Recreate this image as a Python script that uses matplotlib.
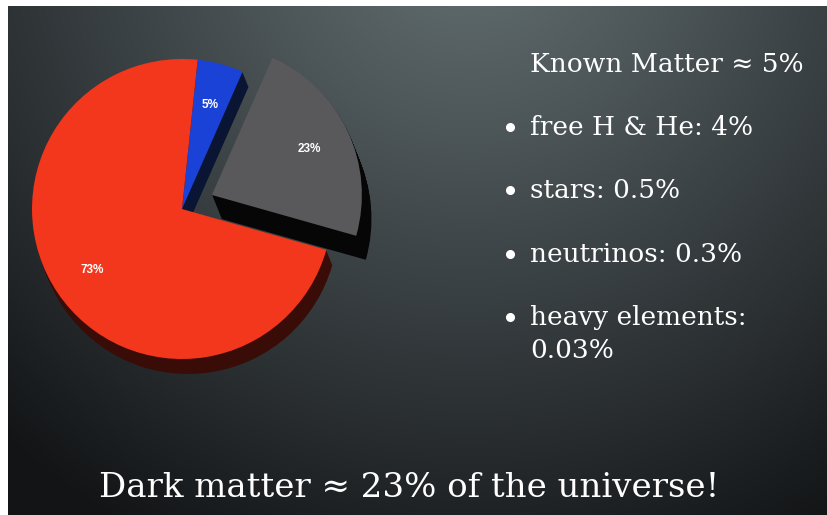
import numpy as np
import matplotlib
matplotlib.use("Agg")
from matplotlib import pyplot as plt

# data
slice_names = ["Known Matter", "Dark Matter", "Dark Energy"]
slice_values = [5, 23, 73]
slice_colors = ["#1a42d6", "#59595b", "#f2371d"]
side_colors = ["#0a1433", "#060606", "#3a0c07"]
explode = [0, 0.22, 0]

heading = "Known Matter \u2248 5%"
bullets = ["free H & He: 4%", "stars: 0.5%", "neutrinos: 0.3%", "heavy elements:\n0.03%"]
bullet_y = [127, 190, 254, 317]
title = "Dark matter \u2248 23% of the universe!"

W, H = 827, 515
fig = plt.figure(figsize=(W / 100, H / 100), dpi=100)
fig.patch.set_facecolor("white")

# background slide with radial gradient
ax = fig.add_axes([8 / W, 0, 1 - 8 / W, 1 - 6 / H])
ax.set_xlim(8, W)
ax.set_ylim(H, 6)
ax.axis("off")
yy, xx = np.mgrid[6:H, 8:W]
d = np.sqrt((xx - 470) ** 2 + (yy + 80) ** 2)
f = np.clip(1 - d / 700, 0, 1)
dark = np.array([18, 20, 22]) / 255
light = np.array([102, 114, 117]) / 255
img = dark + f[..., None] * (light - dark)
ax.imshow(img, extent=(8, W, H, 6), aspect="auto", zorder=0)

serif = "DejaVu Serif"
fs = 19
ax.text(530, 72, heading, color="white", fontsize=fs, family=serif, va="baseline")
for txt, y in zip(bullets, bullet_y):
    ax.plot(510, y, "o", color="white", markersize=5.5)
    for i, ln in enumerate(txt.split("\n")):
        ax.text(530, y + 8 + i * 33, ln, color="white", fontsize=fs, family=serif, va="baseline")
ax.text(409, 497, title, color="white", fontsize=24.5, family=serif, ha="center", va="baseline")

# pie chart with fake depth
cx, cy, r = 182, 209, 150
pax = fig.add_axes([(cx - 1.2 * r) / W, 1 - (cy + 1.2 * r) / H, 2.4 * r / W, 2.4 * r / H])
px = 1 / r
total = sum(slice_values)
for k in range(24, 0, -1):
    cols = list(side_colors) if k <= 15 else ["none", side_colors[1], "none"]
    pax.pie(slice_values, colors=cols, explode=explode, startangle=84, counterclock=False,
            center=(k * 0.4 * px, -k * 1.0 * px), wedgeprops=dict(linewidth=0))
_, _, autotexts = pax.pie(slice_values, colors=slice_colors, explode=explode, startangle=84,
                          counterclock=False, wedgeprops=dict(linewidth=0),
                          autopct=lambda p: f"{p * total / 100:.0f}%", pctdistance=0.72,
                          textprops=dict(color="white", fontsize=8.5, fontweight="bold",
                                         family="Liberation Sans"))
pax.set_xlim(-1.2, 1.2)
pax.set_ylim(-1.2, 1.2)
pax.axis("off")

fig.savefig("out.png", dpi=100, facecolor="white")
